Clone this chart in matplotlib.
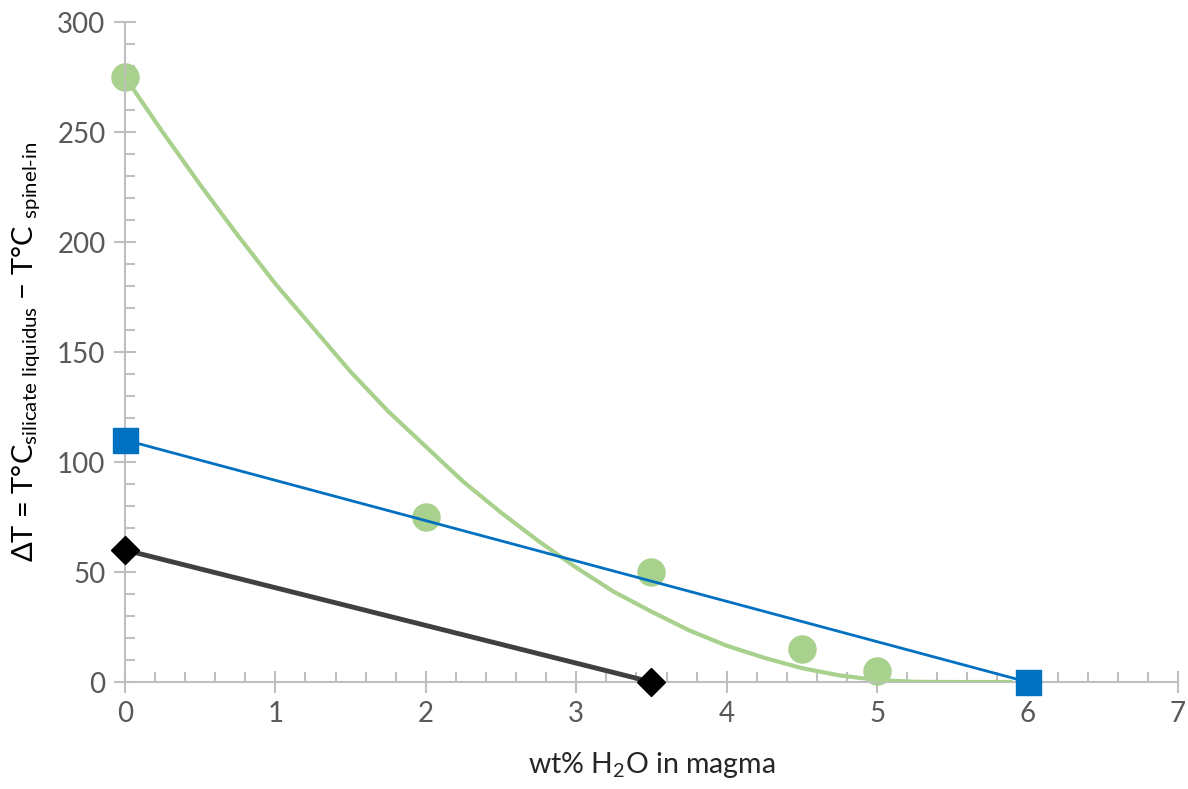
import matplotlib.pyplot as plt
from matplotlib.ticker import MultipleLocator

# data
green_x = [0, 2, 3.5, 4.5, 5]
green_y = [275, 75, 50, 15, 5]

# green trend curve
trend_x = [0, 0.25, 0.5, 0.75, 1, 1.25, 1.5, 1.75, 2, 2.25, 2.5, 2.75, 3,
           3.25, 3.5, 3.75, 4, 4.25, 4.5, 4.75, 5, 5.25, 5.5, 5.9]
trend_y = [275, 250, 226, 203, 181, 161, 141, 123, 107, 91, 77, 64, 52,
           41, 32, 23.5, 16.5, 11, 6.3, 3, 0.9, 0.1, 0, 0]

blue_x = [0, 6]
blue_y = [110, 0]

black_x = [0, 3.5]
black_y = [60, 0]

plt.rcParams['font.family'] = ['Lato', 'DejaVu Sans']
plt.rcParams['mathtext.fontset'] = 'custom'
plt.rcParams['mathtext.rm'] = 'Lato'

fig = plt.figure(figsize=(11.88, 7.89), dpi=100)
ax = fig.add_axes([0.1052, 0.1356, 0.8864, 0.8365])

ax.plot(trend_x, trend_y, color='#A9D18E', lw=3, zorder=3, solid_capstyle='butt')
ax.plot(green_x, green_y, 'o', color='#A9D18E', ms=19.5, zorder=2, clip_on=False)
ax.plot(blue_x, blue_y, '-s', color='#0070C0', lw=2, ms=18, zorder=4, clip_on=False)
ax.plot(black_x, black_y, '-', color='#404040', lw=3.5, zorder=5)
ax.plot(black_x, black_y, 'D', color='black', ms=14, zorder=6, clip_on=False)

ax.set_xlim(0, 7)
ax.set_ylim(0, 300)
ax.xaxis.set_major_locator(MultipleLocator(1))
ax.xaxis.set_minor_locator(MultipleLocator(0.2))
ax.yaxis.set_major_locator(MultipleLocator(50))
ax.yaxis.set_minor_locator(MultipleLocator(10))

for s in ['top', 'right']:
    ax.spines[s].set_visible(False)
for s in ['left', 'bottom']:
    ax.spines[s].set_color('#BFBFBF')
    ax.spines[s].set_linewidth(1.5)

ax.tick_params(which='major', direction='inout', length=16, width=1.5,
               color='#BFBFBF', labelcolor='#595959', labelsize=20)
ax.tick_params(which='minor', direction='in', length=7, width=1.5, color='#BFBFBF')
ax.tick_params(axis='x', which='major', pad=6)
ax.tick_params(axis='y', which='major', pad=6)

ax.set_xlabel(r'wt% H$_{\mathregular{2}}$O in magma', fontsize=20.5, color='#262626', labelpad=16)
ax.set_ylabel(r'ΔT = T°C$_{\mathregular{silicate\ liquidus}}$ − T°C $_{\mathregular{spinel\text{-}in}}$',
              fontsize=21, color='black', labelpad=10)

fig.savefig('out.png', dpi=100)
